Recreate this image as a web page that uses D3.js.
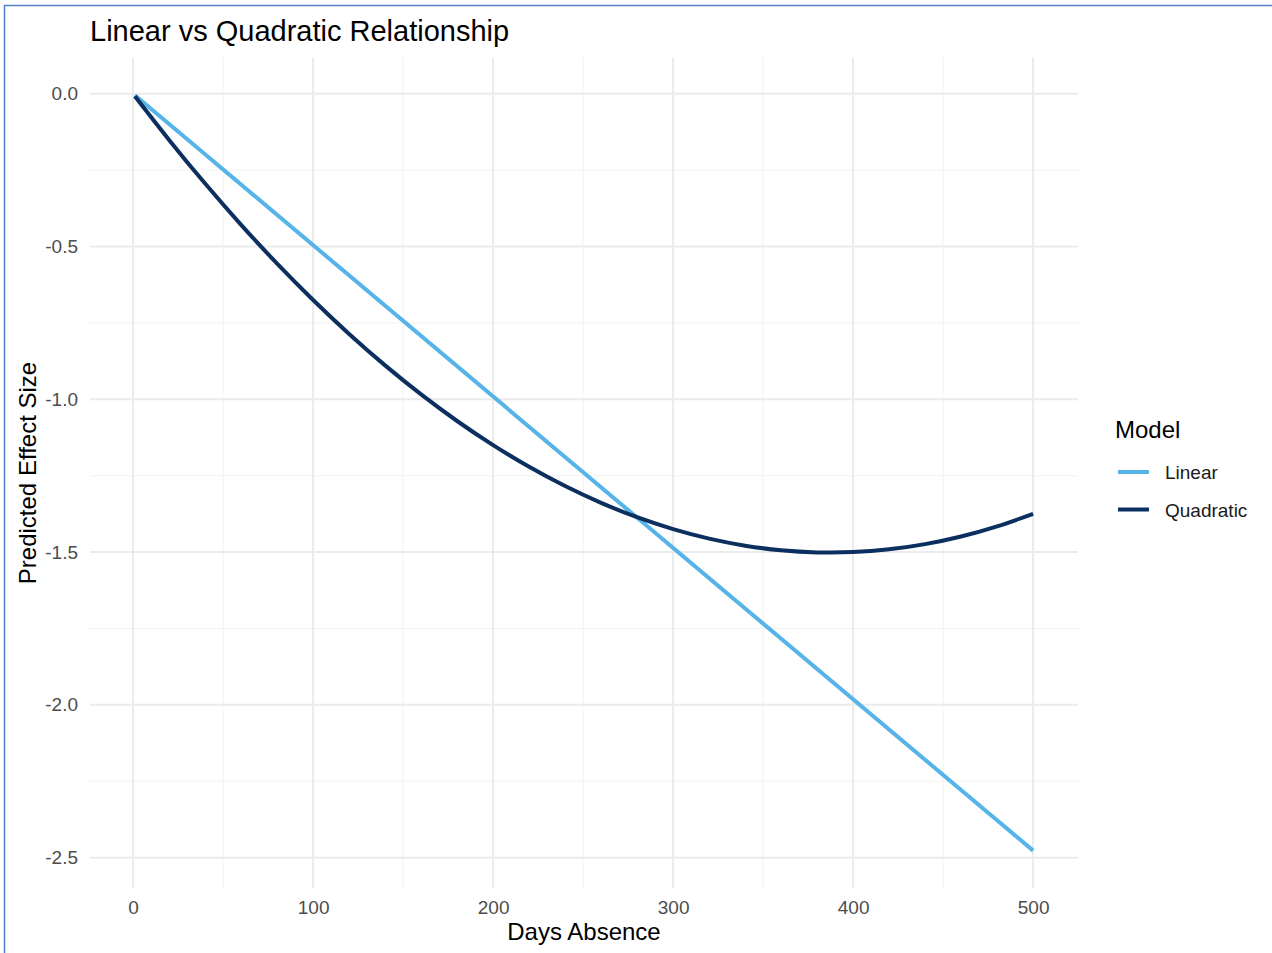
<!DOCTYPE html>
<html>
<head>
<meta charset="utf-8">
<script src="https://cdn.jsdelivr.net/npm/d3@7"></script>
<style>
  html, body { margin: 0; padding: 0; background: #fff; }
  svg { display: block; font-family: "Liberation Sans", Arial, sans-serif; }
</style>
</head>
<body>
<svg id="chart" width="1272" height="953"></svg>
<script>
// ---- Data ----
const linearDays = [1, 500];
const linearValues = [-0.005, -2.477];

const quadDays = [1, 20, 40, 60, 80, 100, 120, 140, 160, 180, 200, 220, 240, 260, 280, 300, 320, 340, 360, 380, 400, 420, 440, 460, 480, 500];
const quadValues = [-0.008, -0.151, -0.294, -0.429, -0.556, -0.675, -0.786, -0.889, -0.984, -1.071, -1.150, -1.221, -1.284, -1.339, -1.386, -1.425, -1.456, -1.479, -1.494, -1.501, -1.500, -1.491, -1.474, -1.449, -1.416, -1.375];

const xTicks = [0, 100, 200, 300, 400, 500];
const xMinor = [50, 150, 250, 350, 450];
const yTicks = [0.0, -0.5, -1.0, -1.5, -2.0, -2.5];
const yMinor = [-0.25, -0.75, -1.25, -1.75, -2.25];

const seriesNames = ["Linear", "Quadratic"];
const seriesColors = ["#56B4E9", "#0B2F5E"];

// ---- Layout ----
const svg = d3.select("#chart");
const panel = { left: 90, right: 1078, top: 57.5, bottom: 888.5 };
const FONT = "Liberation Sans, Arial, sans-serif";

const x = d3.scaleLinear().domain([-23.95, 524.95]).range([panel.left, panel.right]);
const y = d3.scaleLinear().domain([-2.601, 0.1186]).range([panel.bottom, panel.top]);

// border (screenshot frame)
svg.append("rect").attr("x", 4.5).attr("y", 5.5).attr("width", 1300).attr("height", 1000)
  .attr("fill", "none").attr("stroke", "#4F81C7").attr("stroke-width", 1.5);

// minor grid
const g = svg.append("g");
g.selectAll(".xminor").data(xMinor).join("line")
  .attr("x1", d => x(d)).attr("x2", d => x(d))
  .attr("y1", panel.top).attr("y2", panel.bottom)
  .attr("stroke", "#f2f2f2").attr("stroke-width", 1);
g.selectAll(".yminor").data(yMinor).join("line")
  .attr("y1", d => y(d)).attr("y2", d => y(d))
  .attr("x1", panel.left).attr("x2", panel.right)
  .attr("stroke", "#f2f2f2").attr("stroke-width", 1);
// major grid
g.selectAll(".xmajor").data(xTicks).join("line")
  .attr("x1", d => x(d)).attr("x2", d => x(d))
  .attr("y1", panel.top).attr("y2", panel.bottom)
  .attr("stroke", "#ebebeb").attr("stroke-width", 2);
g.selectAll(".ymajor").data(yTicks).join("line")
  .attr("y1", d => y(d)).attr("y2", d => y(d))
  .attr("x1", panel.left).attr("x2", panel.right)
  .attr("stroke", "#ebebeb").attr("stroke-width", 2);

// axes (labels only, theme_minimal)
const xAxis = d3.axisBottom(x).tickValues(xTicks).tickSize(0).tickPadding(0).tickFormat(d3.format("d"));
const xa = svg.append("g").attr("transform", `translate(0,${panel.bottom + 12})`).call(xAxis);
xa.select(".domain").remove();
xa.attr("font-size", null).attr("font-family", null);
xa.selectAll("text").attr("font-size", 19).attr("fill", "#4d4d4d").attr("font-family", FONT);

const yAxis = d3.axisLeft(y).tickValues(yTicks).tickSize(0).tickPadding(0).tickFormat(d => d3.format(".1f")(d).replace("−", "-"));
const ya = svg.append("g").attr("transform", `translate(${panel.left - 12},0)`).call(yAxis);
ya.select(".domain").remove();
ya.attr("font-size", null).attr("font-family", null);
ya.selectAll("text").attr("font-size", 19).attr("fill", "#4d4d4d").attr("font-family", FONT);

// lines
const lineGen = d3.line().x(d => x(d[0])).y(d => y(d[1])).curve(d3.curveNatural);
const linearData = linearDays.map((d, i) => [d, linearValues[i]]);
const quadData = quadDays.map((d, i) => [d, quadValues[i]]);

svg.append("path").datum(linearData).attr("d", lineGen)
  .attr("fill", "none").attr("stroke", seriesColors[0]).attr("stroke-width", 4);
svg.append("path").datum(quadData).attr("d", lineGen)
  .attr("fill", "none").attr("stroke", seriesColors[1]).attr("stroke-width", 4);

// title
svg.append("text").attr("x", 90).attr("y", 41).attr("font-size", 29).attr("fill", "#000")
  .text("Linear vs Quadratic Relationship");

// axis titles
svg.append("text").attr("x", (panel.left + panel.right) / 2).attr("y", 940)
  .attr("text-anchor", "middle").attr("font-size", 24).attr("fill", "#000").text("Days Absence");
svg.append("text").attr("transform", `translate(36,${(panel.top + panel.bottom) / 2}) rotate(-90)`)
  .attr("text-anchor", "middle").attr("font-size", 24).attr("fill", "#000").text("Predicted Effect Size");

// legend
const lg = svg.append("g");
lg.append("text").attr("x", 1115).attr("y", 438).attr("font-size", 24).attr("fill", "#000").text("Model");
const legY = [472, 509.5];
seriesNames.forEach((name, i) => {
  lg.append("line").attr("x1", 1118).attr("x2", 1149).attr("y1", legY[i]).attr("y2", legY[i])
    .attr("stroke", seriesColors[i]).attr("stroke-width", 4);
  lg.append("text").attr("x", 1165).attr("y", legY[i] + 7).attr("font-size", 19).attr("fill", "#1a1a1a").text(name);
});
</script>
</body>
</html>
